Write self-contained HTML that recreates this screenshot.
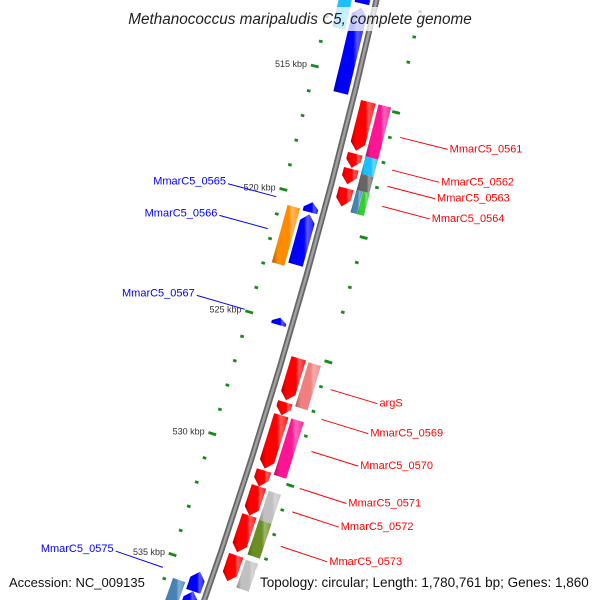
<!DOCTYPE html>
<html><head><meta charset="utf-8"><style>
html,body{margin:0;padding:0;background:#fff;overflow:hidden;width:600px;height:600px;}
svg{display:block;font-family:"Liberation Sans",sans-serif;overflow:hidden;}
</style></head><body>
<svg id="chart" width="600" height="600" viewBox="0 0 600 600">
<defs id="defs"></defs>
<g id="backbone-g"></g>
<g id="rings"></g>
<g id="genes"></g>
<g id="labels"></g>
<rect x="122" y="7" width="356" height="24" fill="#fff" fill-opacity="0.75"/>
<text x="300" y="24" text-anchor="middle" font-size="15.3" font-style="italic" fill="#222">Methanococcus maripaludis C5, complete genome</text>
<rect x="4" y="570" width="150" height="22" fill="#fff" fill-opacity="0.75"/>
<text x="9" y="587" font-size="13" fill="#111">Accession: NC_009135</text>
<rect x="255" y="570" width="345" height="22" fill="#fff" fill-opacity="0.75"/>
<text x="260" y="587" font-size="13.5" fill="#111">Topology: circular; Length: 1,780,761 bp; Genes: 1,860</text>
</svg>
<script>
// ---- data ----
const geneStarts = [515.86,517.94,518.55,519.33,526.19,527.98,528.51,530.76,531.41,532.6,534.23,
                    515.86,517.94,518.64,519.29,519.29,526.23,528.51,531.45,532.64,534.27,
                    510.39,512.35,520.19,520.68,524.88,535.29,536.1,
                    510.55,520.55,535.86];
const geneEnds   = [517.82,518.51,519.17,520.06,527.9,528.51,530.68,531.41,532.6,534.1,535.29,
                    517.94,518.64,519.29,520.19,520.19,528.02,530.8,532.64,534.06,535.41,
                    512.19,515.78,520.6,522.72,525.17,536.1,537.1,
                    513.33,522.88,537.08];
const geneStrand = [1,1,1,1,1,1,1,1,1,1,1, 1,1,1,1,1,1,1,1,1,1, -1,-1,-1,-1,-1,-1,-1, -1,-1,-1];
const geneTrack  = ['a','a','a','a','a','a','a','a','a','a','a',
                    'b','b','b','b1','b2','b','b','b','b','b',
                    'a','a','a','a','a','a','a',
                    'b','b','b'];
const geneColors = ['#ff0000','#ff0000','#ff0000','#ff0000','#ff0000','#ff0000','#ff0000','#ff0000','#ff0000','#ff0000','#ff0000',
                    '#ff1493','#1ebfff','#666666','#4682b4','#32cd32','#f08080','#ff1493','#c0c0c0','#6b8e23','#c0c0c0',
                    '#0000ff','#0000ff','#0000ff','#0000ff','#0000ff','#0000ff','#0000ff',
                    '#1ebfff','#ff8c00','#4682b4'];
const tickKbp = [515,520,525,530,535];
const tickLabels = ['515 kbp','520 kbp','525 kbp','530 kbp','535 kbp'];
const rightDashKbp = [516,521,526,531,536];
const dotKbp = [510,511,512,513,514,516,517,518,519,521,522,523,524,526,527,528,529,531,532,533,534,536,537,538];
const labelNames = ['MmarC5_0561','MmarC5_0562','MmarC5_0563','MmarC5_0564','argS','MmarC5_0569','MmarC5_0570','MmarC5_0571','MmarC5_0572','MmarC5_0573','MmarC5_0565','MmarC5_0566','MmarC5_0567','MmarC5_0575'];
const labelKbp = [516.9,518.2,518.85,519.65,527.0,528.2,529.5,531.0,531.95,533.35,520.35,521.65,524.95,535.6];
const labelStrand = [1,1,1,1,1,1,1,1,1,1,-1,-1,-1,-1];

// ---- geometry ----
const CX=-5115, CY=-1250, R=5632;
const TH0=0.2378, PXK=25.65;
function theta(k){return TH0+(k-515)*PXK/R;}
function P(k,off){const t=theta(k);return [CX+(R+off)*Math.cos(t), CY+(R+off)*Math.sin(t)];}
const NS='http://www.w3.org/2000/svg';
function mk(tag,attrs,parent){const e=document.createElementNS(NS,tag);for(const a in attrs)e.setAttribute(a,attrs[a]);parent.appendChild(e);return e;}
function arcPts(k1,k2,off){const n=8,pts=[];for(let i=0;i<=n;i++){pts.push(P(k1+(k2-k1)*i/n,off));}return pts;}

const defs=document.getElementById('defs');
function shade(hex,f){const n=parseInt(hex.slice(1),16);let r=n>>16,g=(n>>8)&255,b=n&255;
  if(f<1){r*=f;g*=f;b*=f;}else{const m=f-1;r+=(255-r)*m;g+=(255-g)*m;b+=(255-b)*m;}
  return 'rgb('+Math.round(r)+','+Math.round(g)+','+Math.round(b)+')';}
const grads={};
function grad(c){if(grads[c])return grads[c];const id='g'+c.slice(1);
  const lg=mk('linearGradient',{id:id,x1:'0',y1:'0',x2:'1',y2:'0'},defs);
  [[0,shade(c,0.7)],[0.22,c],[0.6,c],[0.72,shade(c,1.35)],[0.9,shade(c,1.2)],[1,c]].forEach(s=>mk('stop',{offset:s[0],'stop-color':s[1]},lg));
  grads[c]='url(#'+id+')';return grads[c];}

// backbone
const bb=document.getElementById('backbone-g');
let bpts=arcPts(508,538,0).map(p=>p.join(',')).join(' ');
let bl=mk('polyline',{points:bpts,fill:'none',stroke:'#666',"stroke-width":6},bb);


let bl2=mk('polyline',{points:bpts,fill:'none',stroke:'#a0a0a0',"stroke-width":2.5},bb);



// rings
const rg=document.getElementById('rings');
dotKbp.forEach(k=>{[-45,45].forEach(off=>{const a=P(k,off-1.8),b=P(k,off+1.8);
  const d=mk('line',{x1:a[0],y1:a[1],x2:b[0],y2:b[1],stroke:'#1a8a1a','stroke-width':2.8},rg);
  
  });});
tickKbp.forEach((k,i)=>{const a=P(k,-49),b=P(k,-41);
  const l=mk('line',{x1:a[0],y1:a[1],x2:b[0],y2:b[1],stroke:'#1a8a1a','stroke-width':2.8},rg);
  
  
  const t=P(k,-53);
  const tx=mk('text',{x:t[0],y:t[1]+3,'text-anchor':'end','font-size':9,fill:'#333'},rg);
  tx.textContent=tickLabels[i];
  
  });
rightDashKbp.forEach(k=>{const a=P(k,41),b=P(k,49);
  const l=mk('line',{x1:a[0],y1:a[1],x2:b[0],y2:b[1],stroke:'#1a8a1a','stroke-width':2.8},rg);
  
  });

// genes
const gg=document.getElementById('genes');
const trackOff={a:15.5,b:32.5,b1:29,b2:36};
const trackW={a:15,b:13,b1:6.5,b2:7};
geneStarts.forEach((k1,i)=>{const k2=geneEnds[i],s=geneStrand[i],tr=geneTrack[i];
  const c=s*trackOff[tr]+(s<0?2:0),w=trackW[tr],lo=c-w/2,hi=c+w/2;let pts;
  if(tr==='a'){const al=Math.min(0.3,(k2-k1)*0.6);
    if(s>0){pts=arcPts(k1,k2-al,lo).concat([P(k2,c)]).concat(arcPts(k1,k2-al,hi).reverse());}
    else{pts=[P(k1,c)].concat(arcPts(k1+al,k2,lo)).concat(arcPts(k1+al,k2,hi).reverse());}
  }else{pts=arcPts(k1,k2,lo).concat(arcPts(k1,k2,hi).reverse());}
  const pg=mk('polygon',{points:pts.map(p=>p[0].toFixed(1)+','+p[1].toFixed(1)).join(' '),fill:grad(geneColors[i])},gg);
  
  });

// labels
const lg=document.getElementById('labels');
labelNames.forEach((n,i)=>{const s=labelStrand[i],k=labelKbp[i];
  const a=P(k,s*(s>0?55:50)),b=P(k,s*(s>0?104:100));
  const col=s>0?'#ff0000':'#0000ff';
  const ln=mk('line',{x1:a[0],y1:a[1],x2:b[0],y2:b[1],stroke:col,'stroke-width':1},lg);
  
  
  const t=mk('text',{x:b[0]+(s>0?2:-2),y:b[1]+(s>0?3:1),'text-anchor':s>0?'start':'end','font-size':11,fill:col},lg);
  t.textContent=n;
  
  });
</script>
</body></html>
